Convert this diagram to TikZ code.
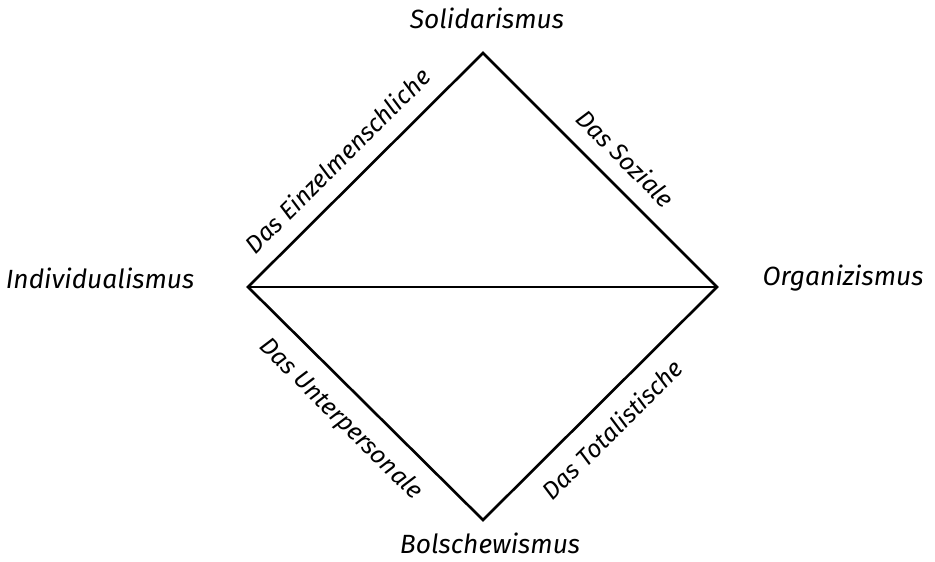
\documentclass[tikz,border=0pt]{standalone}
\usepackage{fontspec}
\setmainfont{Fira Sans}
\usepackage{tikz}
\usetikzlibrary{positioning}

\begin{document}
\begin{tikzpicture}[
  pole/.style={font=\itshape\fontsize{15}{18}\selectfont, inner sep=2pt},
  side/.style={font=\itshape\fontsize{14}{16}\selectfont, sloped, inner sep=3pt},
  edge/.style={line width=1.5pt, line join=miter}
]
\useasboundingbox (0,0) rectangle (18.7,11.22);
% corners of the square
\coordinate (top) at (9.66,10.16);
\coordinate (lft) at (4.96,5.48);
\coordinate (rgt) at (14.34,5.48);
\coordinate (bot) at (9.66,0.82);
% the four poles
\node[pole] (soli) at (9.74,10.86) {Solidarismus};
\node[pole] (indi) at (2.0,5.66) {Individualismus};
\node[pole] (orga) at (16.86,5.66) {Organizismus};
\node[pole] (bols) at (9.8,0.36) {Bolschewismus};
% sides
\draw[edge] (lft) -- node[side, above=6pt, pos=0.46] {Das Einzelmenschliche} (top)
  -- node[side, above=6pt, pos=0.53] {Das Soziale} (rgt)
  -- node[side, below=6pt, pos=0.53] {Das Totalistische} (bot)
  -- node[side, below=6pt, pos=0.52] {Das Unterpersonale} (lft) -- cycle;
\draw[edge] (lft) -- (rgt);
\end{tikzpicture}
\end{document}
